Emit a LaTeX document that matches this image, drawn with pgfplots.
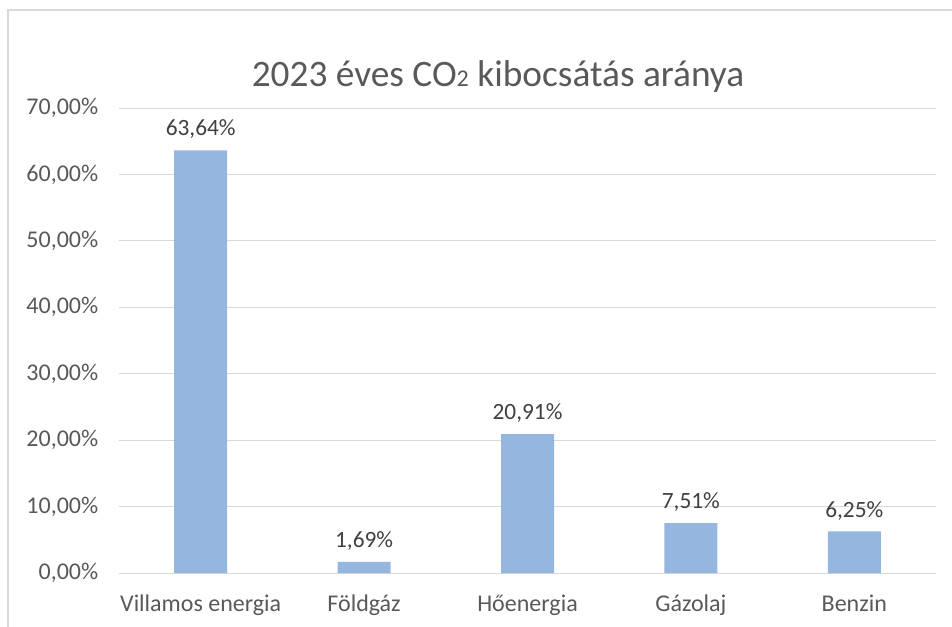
\documentclass[border=0pt]{standalone}
\usepackage{pgfplots}
\pgfplotsset{compat=1.18}
\usepackage{fontspec}
\setmainfont{Carlito}
\definecolor{barblue}{RGB}{149,183,223}
\definecolor{gridgray}{RGB}{217,217,217}
\definecolor{txtgray}{RGB}{89,89,89}
\definecolor{lblgray}{RGB}{64,64,64}
\begin{document}
\begin{tikzpicture}
% 1 px of the reference = 0.75pt; origin = lower left of the plot area
\useasboundingbox (-89.25pt,-39.75pt) rectangle (624.75pt,429.75pt);
\draw[gridgray, line width=1pt] (-83.25pt,-45pt) -- (-83.25pt,422.25pt) -- (630pt,422.25pt);
\node[txtgray, font=\fontsize{28}{32}\selectfont] at (284.25pt,372pt)
  {2023 éves CO{\fontsize{18}{20}\selectfont 2} kibocsátás aránya};
\begin{axis}[
    at={(0pt,0pt)}, anchor=south west,
    scale only axis,
    width=612.75pt, height=348.75pt,
    ybar, bar width=39.75pt,
    xmin=-0.5, xmax=4.5,
    ymin=0, ymax=70,
    xtick={0,1,2,3,4},
    xticklabels={Villamos energia,Földgáz,Hőenergia,Gázolaj,Benzin},
    ytick={0,10,20,30,40,50,60,70},
    yticklabels={{0,00\%},{10,00\%},{20,00\%},{30,00\%},{40,00\%},{50,00\%},{60,00\%},{70,00\%}},
    ymajorgrids=true,
    grid style={gridgray, line width=0.75pt},
    axis x line*=bottom, axis y line*=left,
    x axis line style={gridgray, line width=0.75pt, -},
    y axis line style={draw=none},
    major tick length=0pt,
    tick label style={txtgray, font=\fontsize{18}{21}\selectfont},
    yticklabel style={xshift=-12pt},
    xticklabel style={yshift=-13pt},
    nodes near coords,
    point meta=explicit symbolic,
    every node near coord/.append style={lblgray, font=\fontsize{17.5}{20}\selectfont, yshift=5pt},
]
\addplot[fill=barblue, draw=none] coordinates {
    (0,63.64) [63,64\%]
    (1,1.69) [1,69\%]
    (2,20.91) [20,91\%]
    (3,7.51) [7,51\%]
    (4,6.25) [6,25\%]
};
\end{axis}
\end{tikzpicture}
\end{document}
